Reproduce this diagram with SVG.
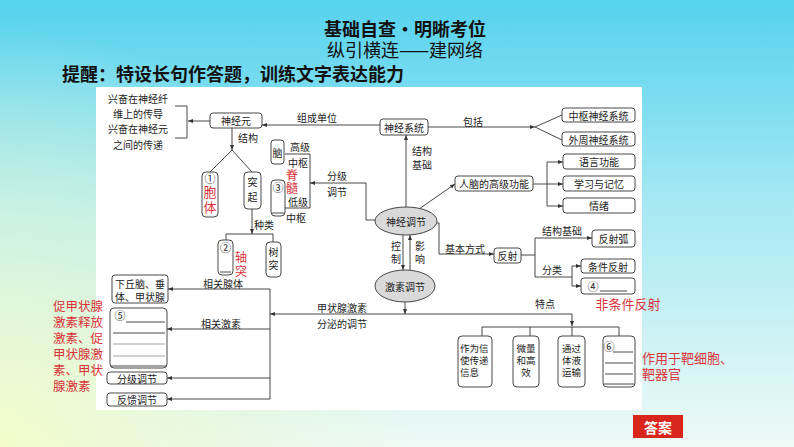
<svg xmlns="http://www.w3.org/2000/svg" width="794" height="447" viewBox="0 0 794 447">
<defs>
<linearGradient id="bg" x1="0" y1="0" x2="0" y2="1">
<stop offset="0" stop-color="#55d2ee"/>
<stop offset="0.45" stop-color="#a5e8f3"/>
<stop offset="1" stop-color="#eefaf6"/>
</linearGradient>
<radialGradient id="bl" cx="0" cy="447" r="420" gradientUnits="userSpaceOnUse">
<stop offset="0" stop-color="#f3fbc8" stop-opacity="0.95"/>
<stop offset="0.6" stop-color="#e6f8d4" stop-opacity="0.5"/>
<stop offset="1" stop-color="#e6f8d4" stop-opacity="0"/>
</radialGradient>
<marker id="ah" viewBox="0 0 10 10" refX="10" refY="5" markerWidth="5" markerHeight="5" orient="auto" markerUnits="userSpaceOnUse">
<path d="M0,1 L10,5 L0,9 z" fill="#333"/>
</marker>
<style>
text { font-family: "Noto Sans CJK SC", "Noto Sans", sans-serif; dominant-baseline: central; fill: #222; }
.t { font-size: 10px; }
.s { font-size: 9.5px; }
.m { text-anchor: middle; }
.r { fill: #d9343a; font-size: 13px; }
.rs { fill: #d9343a; font-size: 12px; }
.c { font-size: 11px; fill: #222; }
.v { writing-mode: vertical-rl; text-orientation: upright; }
.box { fill: #fff; stroke: #333; stroke-width: 0.9; }
.ln { fill: none; stroke: #333; stroke-width: 0.9; }
.gl { fill: none; stroke: #999; stroke-width: 0.9; }
.ar { marker-end: url(#ah); }
.ell { fill: #d9d9d9; stroke: #333; stroke-width: 0.9; }
</style>
</defs>

<rect x="0" y="0" width="794" height="447" fill="url(#bg)"/>
<rect x="0" y="0" width="794" height="447" fill="url(#bl)"/>
<rect x="96" y="87" width="546" height="323" fill="#fff"/>

<g id="title">
<text x="405" y="28" class="m" style="font-size:18px;font-weight:bold;fill:#111">基础自查·明晰考位</text>
<text x="405" y="49" class="m" style="font-size:18px;fill:#111">纵引横连——建网络</text>
<text x="62" y="72.5" style="font-size:18px;font-weight:bold;fill:#111">提醒：特设长句作答题，训练文字表达能力</text>
</g>

<g id="connectors">
<path class="ln ar" d="M210,121 H188"/>
<path class="ln" d="M175,106 H187 V138 H175"/>
<path class="ln ar" d="M380,125 H262"/>
<path class="ln ar" d="M428,127 H535"/>
<path class="ln" d="M535,127 L562,115 M535,127 L562,140"/>
<path class="ln ar" d="M406,207 V135"/>
<path class="ln ar" d="M419,209 L455,184"/>
<path class="ln" d="M533,184 H547 M547,162 V206"/>
<path class="ln ar" d="M547,162 H563"/>
<path class="ln ar" d="M547,184 H563"/>
<path class="ln ar" d="M547,206 H563"/>
<path class="ln ar" d="M375,220 H366 V183 H310"/>
<path class="ln" d="M285,154 H310 V208 H285"/>
<path class="ln ar" d="M403,235 V270"/>
<path class="ln ar" d="M410,270 V235"/>
<path class="ln ar" d="M437,223 H439 V254 H494"/>
<path class="ln" d="M521,255 H535 M535,238 V277 H572 M572,266 V286"/>
<path class="ln ar" d="M535,238 H592"/>
<path class="ln ar" d="M572,266 H581"/>
<path class="ln ar" d="M572,286 H581"/>
<path class="ln ar" d="M232,128 V150"/>
<path class="ln" d="M232,150 L210,172 M232,150 L252,172"/>
<path class="ln ar" d="M252,209 V234"/>
<path class="ln" d="M226,240 V234 H273 V242"/>
<path class="ln ar" d="M405,302 V314"/>
<path class="ln ar" d="M572,314 H270"/>
<path class="ln ar" d="M572,314 V326"/>
<path class="ln" d="M482,336 V327 H619 V336 M530,327 V336 M572,327 V336"/>
<path class="ln" d="M270,289 V399"/>
<path class="ln ar" d="M270,289 H168"/>
<path class="ln ar" d="M270,329 H167"/>
<path class="ln ar" d="M270,378 H167"/>
<path class="ln ar" d="M270,399 H167"/>
<text class="t m" x="317" y="117">组成单位</text>
<text class="t m" x="473" y="121">包括</text>
<text class="t"><tspan x="412" y="149.5">结构</tspan><tspan x="412" y="164">基础</tspan></text>
<text class="t m"><tspan x="337" y="175">分级</tspan><tspan x="337" y="191">调节</tspan></text>
<text class="t v" x="396" y="241" style="letter-spacing:3px">控制</text>
<text class="t v" x="420" y="241" style="letter-spacing:3px">影响</text>
<text class="t m" x="465" y="248">基本方式</text>
<text class="t m" x="562" y="230">结构基础</text>
<text class="t m" x="552" y="269">分类</text>
<text class="t" x="238" y="137">结构</text>
<text class="t" x="254" y="224">种类</text>
<text class="t m"><tspan x="342" y="307">甲状腺激素</tspan><tspan x="342" y="323">分泌的调节</tspan></text>
<text class="t m" x="545" y="303">特点</text>
<text class="t m" x="223" y="283">相关腺体</text>
<text class="t m" x="221" y="323">相关激素</text>
</g>

<g id="n-excite">
<text class="t m"><tspan x="138" y="98">兴奋在神经纤</tspan><tspan x="138" y="113">维上的传导</tspan></text>
<text class="t m"><tspan x="138" y="128">兴奋在神经元</tspan><tspan x="138" y="144">之间的传递</tspan></text>
</g>

<g id="n-neuron"><rect class="box" x="210" y="113" width="52" height="15" rx="3"/><text class="t m" x="236" y="120.5">神经元</text></g>
<g id="n-ns"><rect class="box" x="380" y="119" width="48" height="16" rx="3"/><text class="t m" x="404" y="127">神经系统</text></g>
<g id="n-cns"><rect class="box" x="562" y="108" width="73" height="14" rx="3"/><text class="t m" x="598.5" y="115">中枢神经系统</text></g>
<g id="n-pns"><rect class="box" x="562" y="132" width="73" height="14" rx="3"/><text class="t m" x="598.5" y="139">外周神经系统</text></g>
<g id="n-lang"><rect class="box" x="563" y="154" width="72" height="15" rx="3"/><text class="t m" x="599" y="161.5">语言功能</text></g>
<g id="n-mem"><rect class="box" x="563" y="176" width="72" height="15" rx="3"/><text class="t m" x="599" y="183.5">学习与记忆</text></g>
<g id="n-emo"><rect class="box" x="563" y="198" width="72" height="15" rx="3"/><text class="t m" x="599" y="205.5">情绪</text></g>
<g id="n-brain-high"><rect class="box" x="455" y="176" width="78" height="15" rx="3"/><text class="t m" x="494" y="183.5">人脑的高级功能</text></g>
<g id="n-neural-reg"><ellipse class="ell" cx="406" cy="221" rx="31" ry="14"/><text class="t m" x="406" y="221">神经调节</text></g>
<g id="n-hormone-reg"><ellipse class="ell" cx="405" cy="286" rx="30" ry="16"/><text class="t m" x="405" y="286">激素调节</text></g>
<g id="n-reflex"><rect class="box" x="494" y="248" width="27" height="15" rx="3"/><text class="t m" x="507.5" y="255.5">反射</text></g>
<g id="n-arc"><rect class="box" x="592" y="230" width="43" height="17" rx="3"/><text class="t m" x="613.5" y="238.5">反射弧</text></g>
<g id="n-cond"><rect class="box" x="581" y="259" width="54" height="14" rx="3"/><text class="t m" x="608" y="266">条件反射</text></g>
<g id="n-4"><rect class="box" x="581" y="278" width="54" height="16" rx="3"/><text class="c m" x="593" y="286">④</text><path class="ln" d="M600,291 H627"/><text class="r m" x="628" y="303">非条件反射</text></g>
<g id="n-1"><rect class="box" x="202" y="172" width="16" height="45" rx="4"/><text class="c m" x="210" y="178">①</text><text class="r v" x="210" y="186" style="letter-spacing:2px">胞体</text></g>
<g id="n-process"><rect class="box" x="244" y="172" width="17" height="37" rx="4"/><text class="t v" x="252.5" y="177" style="letter-spacing:5px">突起</text></g>
<g id="n-2"><rect class="box" x="218" y="240" width="15" height="35" rx="4"/><text class="c m" x="225.5" y="246.5">②</text><path class="ln" d="M220,272 H231"/><text class="rs v" x="241" y="251" style="letter-spacing:2px">轴突</text></g>
<g id="n-dendrite"><rect class="box" x="266" y="242" width="15" height="35" rx="4"/><text class="t v" x="273.5" y="247" style="letter-spacing:3px">树突</text></g>
<g id="n-brain"><rect class="box" x="271" y="140" width="13" height="24" rx="3"/><text class="t m" x="277.5" y="152">脑</text></g>
<g id="n-3"><rect class="box" x="271" y="180" width="14" height="36" rx="4"/><text class="c m" x="278" y="187">③</text><path class="ln" d="M272,213 H284"/></g>
<g id="n-spine-labels">
<text class="t m" x="300" y="146">高级</text>
<text class="t m" x="298" y="162">中枢</text>
<text class="rs v" x="292" y="169" style="letter-spacing:1px">脊髓</text>
<text class="t m" x="298" y="201">低级</text>
<text class="t m" x="296" y="217">中枢</text>
</g>
<g id="n-glands"><rect class="box" x="112" y="275" width="56" height="28" rx="3"/><text class="t"><tspan x="115" y="283">下丘脑、垂</tspan><tspan x="115" y="296">体、甲状腺</tspan></text></g>
<g id="n-5"><rect class="box" x="110" y="308" width="57" height="60" rx="4"/><text class="c m" x="120" y="315">⑤</text>
<path class="ln" d="M126,322 H165 M113,333 H165"/><path class="gl" d="M113,344 H165 M113,356 H165"/><path class="ln" d="M111,366 H166"/>
<text class="r" style="font-size:12.5px"><tspan x="53" y="305">促甲状腺</tspan><tspan x="53" y="321">激素释放</tspan><tspan x="53" y="337">激素、促</tspan><tspan x="53" y="353">甲状腺激</tspan><tspan x="53" y="369">素、甲状</tspan><tspan x="53" y="385">腺激素</tspan></text>
</g>
<g id="n-grade"><rect class="box" x="107" y="372" width="60" height="12" rx="3"/><text class="t m" x="137" y="378">分级调节</text></g>
<g id="n-feedback"><rect class="box" x="107" y="393" width="60" height="13" rx="3"/><text class="t m" x="137" y="399.5">反馈调节</text></g>
<g id="n-msg"><rect class="box" x="458" y="336" width="34" height="51" rx="4"/><text class="s"><tspan x="460" y="348">作为信</tspan><tspan x="460" y="360">使传递</tspan><tspan x="460" y="372">信息</tspan></text></g>
<g id="n-trace"><rect class="box" x="513" y="336" width="26" height="51" rx="4"/><text class="s m"><tspan x="526" y="348">微量</tspan><tspan x="526" y="360">和高</tspan><tspan x="526" y="372">效</tspan></text></g>
<g id="n-fluid"><rect class="box" x="558" y="336" width="27" height="51" rx="4"/><text class="s m"><tspan x="571.5" y="348">通过</tspan><tspan x="571.5" y="360">体液</tspan><tspan x="571.5" y="372">运输</tspan></text></g>
<g id="n-6"><rect class="box" x="603" y="336" width="32" height="51" rx="4"/><text class="c m" x="609" y="346">⑥</text>
<path class="ln" d="M613,352 H633 M605,363 H633 M605,374 H633 M604,384 H634"/>
<text class="r"><tspan x="642" y="357">作用于靶细胞、</tspan><tspan x="642" y="373">靶器官</tspan></text>
</g>
<g id="answer"><rect x="633" y="415" width="50" height="23" fill="#d9261c"/><text class="m" x="658" y="426.5" style="font-size:14px;font-weight:bold;fill:#fff">答案</text></g>
</svg>
